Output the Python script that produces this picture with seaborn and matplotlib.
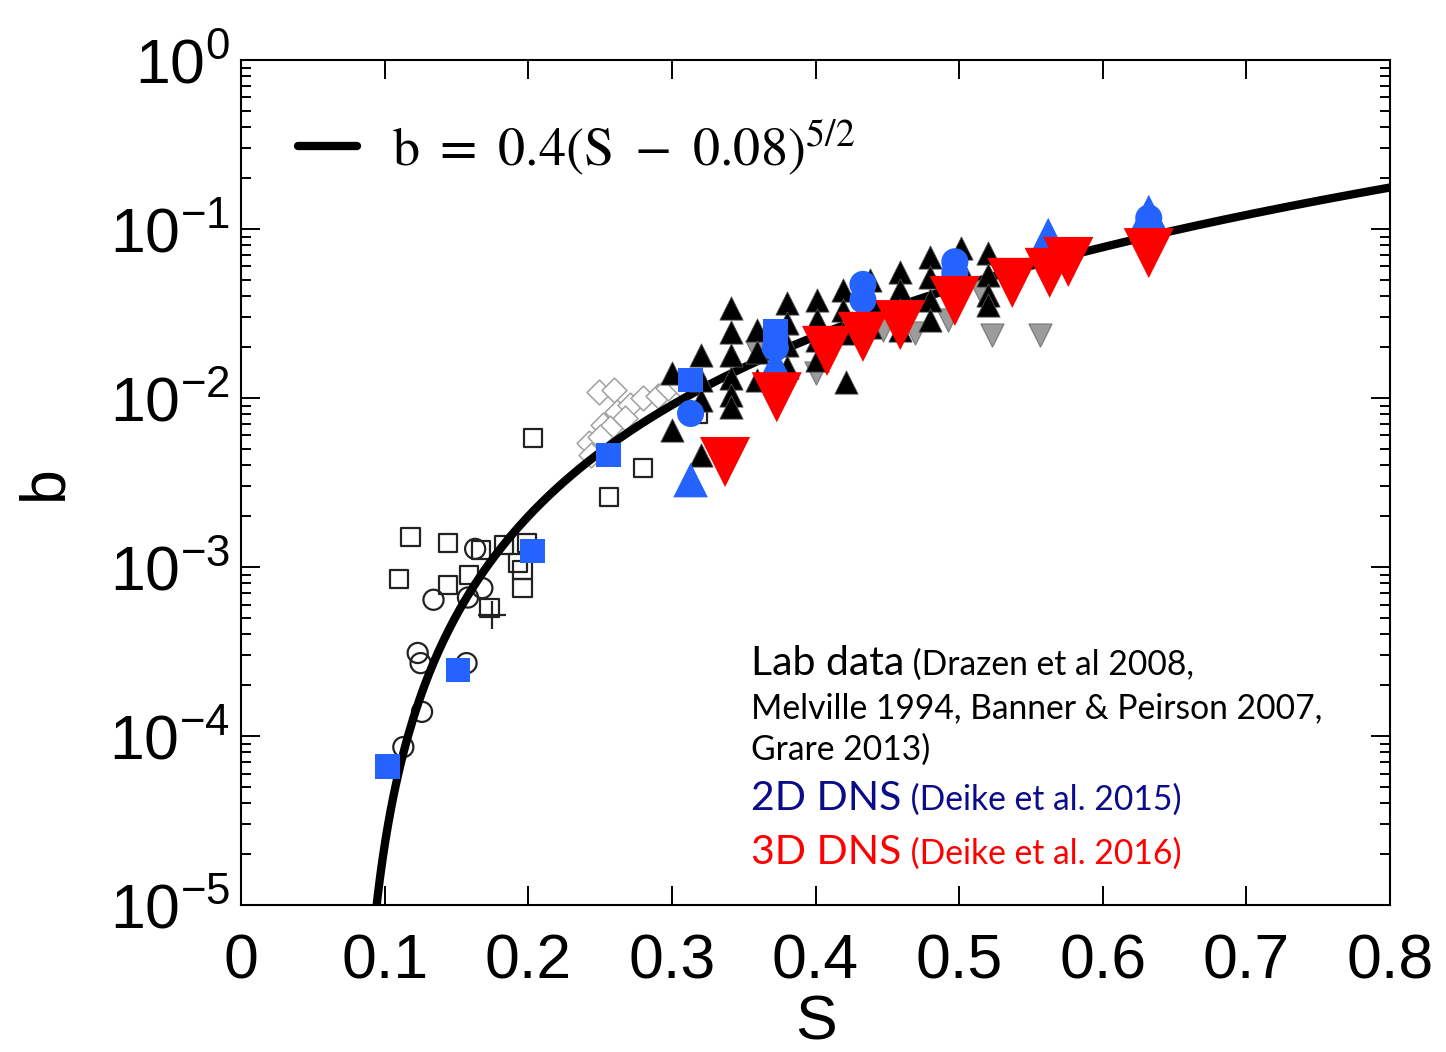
import numpy as np
import matplotlib
matplotlib.use('Agg')
import matplotlib.pyplot as plt
import seaborn as sns
from matplotlib.font_manager import FontProperties

# ---- values (slope S, breaking parameter b) ----
# lab data: open circles
lab_circ_S = [0.163, 0.134, 0.158, 0.168, 0.123, 0.125, 0.157, 0.126, 0.113]
lab_circ_b = [1.28e-3, 6.4e-4, 6.6e-4, 7.5e-4, 3.1e-4, 2.7e-4, 2.7e-4, 1.39e-4, 8.6e-5]
# lab data: open squares
lab_sq_S = [0.203, 0.280, 0.256, 0.118, 0.144, 0.110, 0.144, 0.159, 0.167,
            0.183, 0.199, 0.193, 0.196, 0.196, 0.173, 0.318]
lab_sq_b = [5.8e-3, 3.85e-3, 2.6e-3, 1.51e-3, 1.39e-3, 8.5e-4, 7.8e-4, 9.0e-4, 1.26e-3,
            1.35e-3, 1.39e-3, 1.06e-3, 9.6e-4, 7.5e-4, 5.7e-4, 8.1e-3]
# lab data: plus
lab_plus_S = [0.175]
lab_plus_b = [5.2e-4]
# lab data: open diamonds
lab_dia_S = [0.249, 0.260, 0.252, 0.262, 0.271, 0.280, 0.290, 0.297, 0.242,
             0.244, 0.257, 0.267, 0.250, 0.306]
lab_dia_b = [1.09e-2, 1.12e-2, 6.9e-3, 8.3e-3, 9.1e-3, 1.0e-2, 1.03e-2, 1.15e-2, 5.4e-3,
             4.6e-3, 6.6e-3, 7.6e-3, 5.9e-3, 1.19e-2]
# lab data: black triangles
lab_tri_S = [0.300, 0.300, 0.320, 0.320, 0.320, 0.320, 0.341, 0.341, 0.341, 0.341, 0.341, 0.341,
             0.359, 0.359, 0.359, 0.380, 0.380, 0.380, 0.380, 0.401, 0.401, 0.401, 0.401,
             0.421, 0.419, 0.419, 0.419, 0.438, 0.438, 0.438, 0.459, 0.459, 0.459, 0.459,
             0.480, 0.480, 0.480, 0.480, 0.501, 0.501, 0.520, 0.520, 0.520, 0.520]
lab_tri_b = [1.41e-2, 6.5e-3, 1.80e-2, 1.28e-2, 9.7e-3, 4.6e-3, 3.41e-2, 2.46e-2, 1.80e-2, 1.31e-2, 1.04e-2, 8.9e-3,
             2.52e-2, 1.87e-2, 1.28e-2, 3.65e-2, 2.78e-2, 2.06e-2, 1.52e-2, 3.8e-2, 2.9e-2, 2.2e-2, 1.68e-2,
             1.24e-2, 4.36e-2, 3.32e-2, 2.43e-2, 4.99e-2, 3.8e-2, 2.63e-2, 5.57e-2, 4.36e-2, 3.32e-2, 2.52e-2,
             6.83e-2, 5.2e-2, 3.8e-2, 2.9e-2, 7.72e-2, 5.88e-2, 7.21e-2, 5.34e-2, 4.07e-2, 3.55e-2]
# lab data: grey down triangles
lab_grey_S = [0.359, 0.400, 0.447, 0.469, 0.492, 0.515, 0.523, 0.556]
lab_grey_b = [1.87e-2, 1.41e-2, 2.52e-2, 2.43e-2, 2.9e-2, 4.24e-2, 2.36e-2, 2.36e-2]

# 2D DNS (Deike et al. 2015)
dns2_sq_S = [0.102, 0.151, 0.203, 0.256, 0.313, 0.372]
dns2_sq_b = [6.6e-5, 2.46e-4, 1.24e-3, 4.6e-3, 1.28e-2, 2.5e-2]
dns2_circ_S = [0.313, 0.372, 0.433, 0.433, 0.497, 0.497, 0.632]
dns2_circ_b = [8.1e-3, 1.98e-2, 4.7e-2, 3.8e-2, 6.4e-2, 5.5e-2, 0.116]
dns2_tri_S = [0.313, 0.372, 0.562, 0.632]
dns2_tri_b = [3.27e-3, 1.57e-2, 9.2e-2, 0.126]

# 3D DNS (Deike et al. 2016)
dns3_S = [0.373, 0.337, 0.408, 0.433, 0.459, 0.497, 0.537, 0.563, 0.576, 0.632]
dns3_b = [1.01e-2, 4.18e-3, 1.9e-2, 2.3e-2, 2.7e-2, 3.75e-2, 4.8e-2, 5.5e-2, 6.38e-2, 7.2e-2]

x_ticks = [0, 0.1, 0.2, 0.3, 0.4, 0.5, 0.6, 0.7, 0.8]
x_tick_labels = ['0', '0.1', '0.2', '0.3', '0.4', '0.5', '0.6', '0.7', '0.8']

# fit b = 0.4 (S - 0.08)^(5/2)
S_fit = np.linspace(0.0935, 0.8, 400)
b_fit = 0.4 * (S_fit - 0.08) ** 2.5

sns.set_style('ticks')
plt.rcParams['font.family'] = ['Liberation Sans', 'DejaVu Sans']
plt.rcParams['axes.linewidth'] = 1.5
for key in ['text.color', 'axes.labelcolor', 'xtick.color', 'ytick.color', 'axes.edgecolor']:
    plt.rcParams[key] = 'black'

fig = plt.figure(figsize=(14.46, 10.52), dpi=100)
ax = fig.add_axes([0.1667, 0.1397, 0.7946, 0.8033])
ax.set_yscale('log')

blue = '#2563ff'

sns.scatterplot(x=lab_circ_S, y=lab_circ_b, marker='o', s=210, facecolor='none',
                edgecolor='#222222', linewidth=1.6, ax=ax, zorder=2)
sns.scatterplot(x=lab_sq_S, y=lab_sq_b, marker='s', s=170, facecolor='none',
                edgecolor='#222222', linewidth=1.6, ax=ax, zorder=2)
sns.scatterplot(x=lab_plus_S, y=lab_plus_b, marker='+', s=420, color='#222222',
                linewidth=1.6, ax=ax, zorder=2)
sns.scatterplot(x=lab_dia_S, y=lab_dia_b, marker='D', s=160, facecolor='white',
                edgecolor='#a0a0a0', linewidth=1.1, ax=ax, zorder=2)

sns.lineplot(x=S_fit, y=b_fit, color='black', linewidth=6, ax=ax, zorder=3,
             label=r'$\mathrm{b}\ =\ 0.4(\mathrm{S}\ -\ 0.08)^{5/2}$')

sns.scatterplot(x=lab_grey_S, y=lab_grey_b, marker='v', s=270, color='#9c9c9c',
                edgecolor='#808080', linewidth=1, ax=ax, zorder=4)
sns.scatterplot(x=lab_tri_S, y=lab_tri_b, marker='^', s=280, color='black',
                edgecolor='#555555', linewidth=0.6, ax=ax, zorder=5)

sns.scatterplot(x=dns2_sq_S, y=dns2_sq_b, marker='s', s=310, color=blue,
                edgecolor='none', linewidth=0, ax=ax, zorder=6)
sns.scatterplot(x=dns2_circ_S, y=dns2_circ_b, marker='o', s=380, color=blue,
                edgecolor='none', linewidth=0, ax=ax, zorder=6)
sns.scatterplot(x=dns2_tri_S, y=dns2_tri_b, marker='^', s=620, color=blue,
                edgecolor='none', linewidth=0, ax=ax, zorder=6)

sns.scatterplot(x=dns3_S, y=dns3_b, marker='v', s=1300, color='#ff0000',
                edgecolor='none', linewidth=0, ax=ax, zorder=7)

ax.set_xlim(0, 0.8)
ax.set_ylim(1e-5, 1e0)
ax.set_xticks(x_ticks)
ax.set_xticklabels(x_tick_labels)
ax.tick_params(which='both', direction='in', top=True, right=True,
               labelsize=45, width=1.4)
ax.tick_params(which='major', length=14)
ax.tick_params(which='minor', length=7)
ax.tick_params(axis='x', which='major', pad=20)
ax.tick_params(axis='y', which='major', pad=8)
for side in ['top', 'right', 'left', 'bottom']:
    ax.spines[side].set_visible(True)

ax.set_xlabel('S', fontsize=45)
ax.set_ylabel('b', fontsize=45)
ax.xaxis.set_label_coords(0.5, -0.105)
ax.yaxis.set_label_coords(-0.145, 0.5)

leg = ax.legend(loc='upper left', bbox_to_anchor=(0.007, 0.99), frameon=False,
                handlelength=1.1, handletextpad=0.63,
                prop=FontProperties(size=39, math_fontfamily='stix'))

# annotation block
txt_font = ['Lato', 'DejaVu Sans']
lines = [
    ('Lab data', ' (Drazen et al 2008,', 'black', 0.272),
    ('', 'Melville 1994, Banner & Peirson 2007,', 'black', 0.221),
    ('', 'Grare 2013)', 'black', 0.172),
    ('2D DNS', ' (Deike et al. 2015)', '#0c0c8a', 0.113),
    ('3D DNS', ' (Deike et al. 2016)', '#ff0000', 0.0485),
]
for big, small, col, yb in lines:
    t = ax.text(0.444, yb, big, transform=ax.transAxes, fontsize=29.5,
                family=txt_font, color=col, va='baseline', ha='left')
    ax.annotate(small, xy=(1, yb), xycoords=(t, ax.transAxes), fontsize=24.2,
                family=txt_font, color=col, va='baseline', ha='left')

fig.savefig('out.png', dpi=100)
